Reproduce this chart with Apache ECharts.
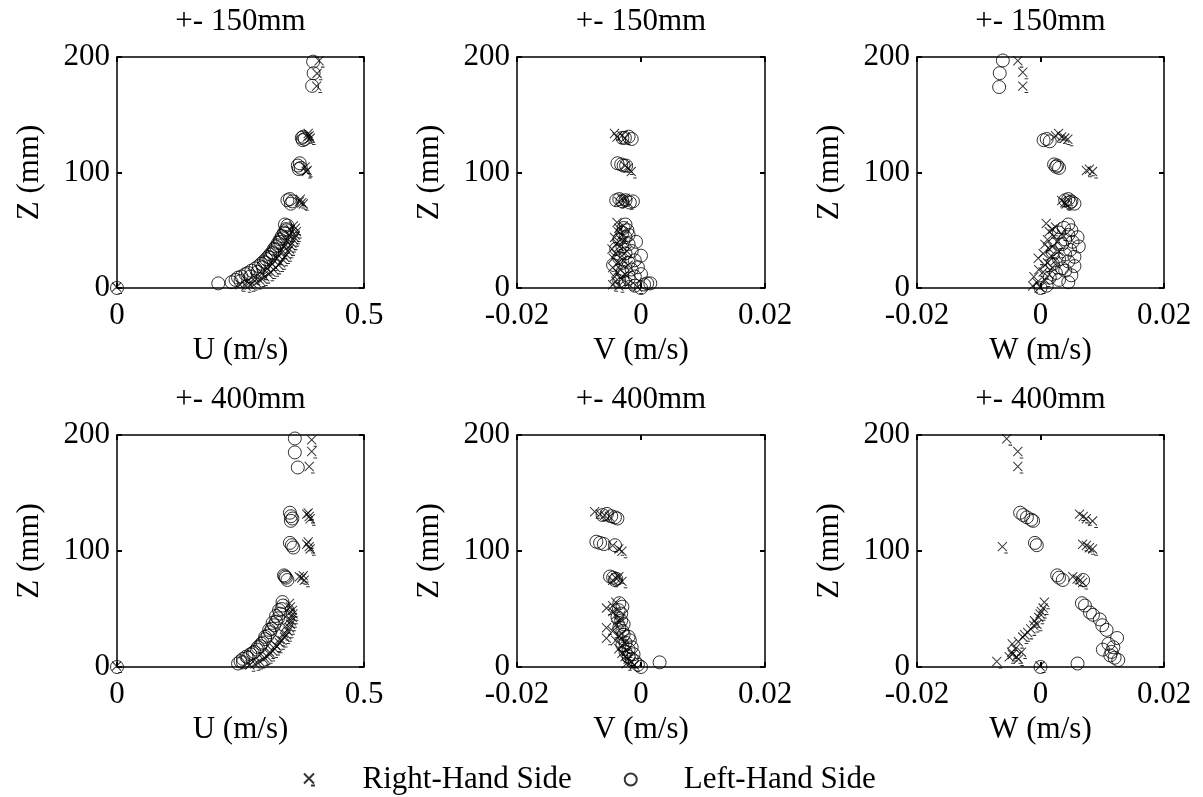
<!DOCTYPE html>
<html>
<head>
<meta charset="utf-8">
<script src="https://cdn.jsdelivr.net/npm/echarts@6/dist/echarts.min.js"></script>
<style>
html, body {margin: 0; padding: 0; background: #fff;}
#main {width: 1203px; height: 797px;}
</style>
</head>
<body>
<div id="main"></div>
<script>
//*************** data: [value, Z(mm)] ***************
var rhs_u_150 = [[0,0],
    [0.262,1],[0.27,2],[0.275,3],[0.283,4],[0.29,6],[0.295,7],[0.3,9],[0.308,11],[0.312,13],[0.318,15],[0.322,17],[0.328,19],
    [0.332,21],[0.336,24],[0.34,26],[0.344,28],[0.347,31],[0.35,33],[0.352,36],[0.355,38],[0.358,41],[0.36,43],[0.362,45],
    [0.364,48],[0.362,51],[0.358,53],[0.25,2],[0.265,5],[0.28,8],[0.295,12],[0.305,16],[0.315,20],[0.325,25],[0.335,30],
    [0.34,35],[0.345,40],[0.35,45],[0.352,50],
    [0.37,74],[0.375,73],[0.378,72],[0.372,76],
    [0.382,104],[0.386,101],[0.384,100],
    [0.388,133],[0.39,131],[0.392,129],[0.386,130],
    [0.405,174],[0.406,185],[0.41,196]];
var lhs_u_150 = [[0,0],
    [0.205,4],[0.232,5],[0.24,7],[0.245,9],[0.252,10],[0.26,12],[0.265,13],[0.272,15],[0.28,17],[0.287,19],[0.292,21],
    [0.297,23],[0.302,25],[0.306,27],[0.31,29],[0.314,31],[0.318,34],[0.322,36],[0.326,39],[0.33,42],[0.334,45],[0.338,48],
    [0.342,51],[0.345,54],[0.34,55],[0.25,6],[0.27,10],[0.285,14],[0.295,18],[0.3,22],[0.31,26],[0.315,30],[0.32,33],
    [0.325,37],[0.33,40],[0.335,43],[0.34,47],[0.343,50],
    [0.345,76],[0.35,77],[0.355,75],[0.352,73],
    [0.366,106],[0.37,108],[0.372,104],[0.368,103],
    [0.374,130],[0.377,131],[0.38,129],[0.376,128],
    [0.395,175],[0.398,186],[0.397,196]];

var rhs_v_150 = [[-0.0005,0],
    [-0.0045,2],[-0.0035,1],[-0.002,3],[-0.004,5],[-0.003,7],[-0.0042,9],[-0.0025,11],[-0.0038,13],[-0.0032,15],[-0.0045,17],
    [-0.002,19],[-0.0036,21],[-0.0028,23],[-0.0044,25],[-0.003,27],[-0.004,29],[-0.0022,31],[-0.0046,33],[-0.0034,35],
    [-0.0038,38],[-0.0028,40],[-0.0042,43],[-0.003,45],[-0.0036,48],[-0.0035,51],[-0.0028,53],[-0.0038,56],
    [-0.0035,74],[-0.003,76],[-0.002,73],[-0.0025,77],
    [-0.0015,100],[-0.002,103],[-0.0025,105],
    [-0.0042,133],[-0.0038,130],[-0.003,131],[-0.0025,129]];
var lhs_v_150 = [[0,0],[0.0015,4],
    [-0.001,2],[0.0005,3],[0.001,4],[-0.0025,5],[-0.0035,6],[-0.002,8],[-0.001,10],[0,12],[-0.003,14],[-0.0015,16],
    [-0.0005,18],[-0.0045,20],[-0.002,22],[-0.001,24],[-0.0035,26],[0,28],[-0.0025,30],[-0.0015,32],[-0.004,34],[-0.003,36],
    [-0.002,38],[-0.0008,40],[-0.0035,42],[-0.0025,44],[-0.002,46],[-0.003,48],[-0.0022,50],[-0.0028,52],[-0.0025,55],
    [-0.004,76],[-0.0035,77],[-0.003,75],[-0.0025,76],[-0.0018,74],[-0.0013,75],
    [-0.0038,108],[-0.0032,107],[-0.0028,106],[-0.0024,106],
    [-0.0026,130],[-0.002,131],[-0.0015,129],[-0.003,130]];

var rhs_w_150 = [[0,0],
    [-0.0012,1],[-0.0005,4],[0.0008,6],[-0.001,9],[0.0015,11],[0.0005,13],[-0.0002,15],[0.002,17],[0.0008,19],[0.0012,21],
    [0.0025,23],[-0.0003,25],[0.0018,27],[0.0005,29],[0.003,31],[0.0015,33],[0.002,35],[0.0008,37],[0.0028,39],[0.0012,41],
    [0.0022,44],[0.0035,46],[0.0015,48],[0.002,50],[0.0025,52],[0.001,55],
    [0.0035,75],[0.004,73],[0.0045,76],[0.0042,72],
    [0.0075,101],[0.008,102],[0.0085,100],
    [0.0025,131],[0.003,133],[0.0035,130],[0.004,129],[0.0045,128],
    [-0.0028,174],[-0.0028,186],[-0.0036,196]];
var lhs_w_150 = [[0,0],
    [0.001,2],[0.0045,5],[0.003,7],[0.0015,9],[0.005,11],[0.0025,13],[0.004,15],[0.0035,17],[0.0055,19],[0.002,21],
    [0.0045,23],[0.003,25],[0.0055,27],[0.004,29],[0.002,31],[0.0048,33],[0.0062,36],[0.0035,38],[0.0052,40],[0.004,42],
    [0.006,44],[0.0045,46],[0.003,48],[0.005,50],[0.0038,52],[0.0045,55],
    [0.004,76],[0.0045,77],[0.005,75],[0.0055,73],[0.0048,74],
    [0.0022,107],[0.0027,106],[0.003,104],[0.0025,105],
    [0.0005,128],[0.001,129],[0.0015,127],
    [-0.0067,174],[-0.0066,186],[-0.0061,197]];

var rhs_u_400 = [[0,0],
    [0.27,1],[0.285,3],[0.29,4],[0.297,6],[0.305,8],[0.31,10],[0.316,13],[0.32,15],[0.325,17],[0.33,20],[0.335,22],
    [0.34,25],[0.344,27],[0.347,30],[0.35,33],[0.352,36],[0.354,39],[0.356,42],[0.357,45],[0.356,48],[0.352,51],[0.35,54],
    [0.28,2],[0.3,7],[0.31,12],[0.322,18],[0.33,23],[0.338,28],[0.342,34],[0.348,40],[0.35,46],
    [0.37,77],[0.375,76],[0.38,74],[0.378,78],
    [0.385,105],[0.39,103],[0.392,101],[0.388,107],
    [0.385,131],[0.39,129],[0.392,127],[0.388,132],
    [0.39,172],[0.395,185],[0.395,195]];
var lhs_u_400 = [[0,0],
    [0.245,3],[0.25,5],[0.255,7],[0.262,9],[0.27,11],[0.278,13],[0.283,15],[0.29,18],[0.295,21],[0.3,24],[0.305,27],
    [0.31,30],[0.313,33],[0.318,36],[0.322,39],[0.326,42],[0.33,46],[0.333,50],[0.336,53],[0.335,56],
    [0.255,4],[0.265,8],[0.275,12],[0.285,17],[0.292,20],[0.3,26],[0.308,32],[0.315,38],[0.322,44],[0.328,49],
    [0.338,79],[0.342,77],[0.345,75],[0.34,78],
    [0.35,107],[0.354,105],[0.357,103],
    [0.35,133],[0.352,130],[0.355,128],[0.352,126],
    [0.366,172],[0.36,185],[0.36,197]];

var rhs_v_400 = [[-0.0023,2],[-0.001,1],[-0.0015,4],[-0.002,6],[-0.0025,8],[-0.003,11],[-0.0022,13],[-0.0035,15],
    [-0.003,18],[-0.0025,20],[-0.004,22],[-0.0055,24],[-0.0035,26],[-0.003,28],[-0.0045,30],[-0.0055,33],[-0.004,35],
    [-0.0035,38],[-0.0032,41],[-0.004,44],[-0.0045,47],[-0.0055,50],[-0.0045,52],[-0.004,55],
    [-0.0045,74],[-0.004,76],[-0.0035,77],[-0.003,73],
    [-0.003,99],[-0.0035,101],[-0.0045,104],
    [-0.0074,133],[-0.0065,131],[-0.0058,130],[-0.005,129]];
var lhs_v_400 = [[0,0],[0.003,4],
    [-0.0005,2],[-0.001,5],[-0.0015,7],[-0.002,9],[-0.0012,11],[-0.0025,13],[-0.002,15],[-0.0015,17],[-0.003,19],
    [-0.0025,21],[-0.0018,23],[-0.002,26],[-0.0028,28],[-0.003,31],[-0.0035,34],[-0.0028,37],[-0.0032,40],[-0.0038,43],
    [-0.0032,46],[-0.0036,49],[-0.003,52],[-0.0035,55],
    [-0.005,78],[-0.0045,77],[-0.004,76],[-0.0042,75],
    [-0.0072,108],[-0.0066,107],[-0.006,106],[-0.0042,105],
    [-0.0062,131],[-0.0055,132],[-0.0048,130],[-0.0042,129],[-0.0038,128]];

var rhs_w_400 = [[0,0],
    [-0.007,4],[-0.0035,6],[-0.0038,8],[-0.005,8],[-0.0045,10],[-0.0046,12],[-0.003,12],[-0.004,15],[-0.0045,19],
    [-0.0035,21],[-0.0028,25],[-0.0025,27],[-0.002,29],[-0.0015,32],[-0.001,35],[-0.0005,36],[-0.0009,39],[-0.0002,42],
    [0,45],[0.0002,47],[0.0005,50],[0.0007,55],
    [0.0053,77],[0.006,75],[0.0065,74],[0.0069,72],
    [-0.0061,103],
    [0.0069,105],[0.0075,104],[0.008,102],[0.0085,101],
    [0.0064,131],[0.007,129],[0.0075,127],[0.0085,125],
    [-0.0036,172],[-0.0036,185],[-0.0054,196]];
var lhs_w_400 = [[0,0],
    [0.006,3],[0.0126,6],[0.012,8],[0.0113,10],[0.0115,13],[0.0101,15],[0.0118,17],[0.011,20],[0.0124,25],[0.0107,32],
    [0.01,36],[0.0096,41],[0.0085,45],[0.008,47],[0.0072,53],[0.0067,55],
    [0.0027,79],[0.003,77],[0.0036,75],[0.0069,75],
    [-0.0009,107],[-0.0006,105],
    [-0.0033,133],[-0.0028,131],[-0.0022,129],[-0.0015,127],[-0.0012,126]];

var rhs_data = [rhs_u_150, rhs_v_150, rhs_w_150, rhs_u_400, rhs_v_400, rhs_w_400];
var lhs_data = [lhs_u_150, lhs_v_150, lhs_w_150, lhs_u_400, lhs_v_400, lhs_w_400];

var panel_titles = ['+- 150mm', '+- 150mm', '+- 150mm', '+- 400mm', '+- 400mm', '+- 400mm'];
var x_names = ['U (m/s)', 'V (m/s)', 'W (m/s)', 'U (m/s)', 'V (m/s)', 'W (m/s)'];
var y_name = 'Z (mm)';
var u_range = [0, 0.5, 0.5];        // min, max, interval
var vw_range = [-0.02, 0.02, 0.02];
var z_range = [0, 200, 100];
var legend_names = ['Right-Hand Side', 'Left-Hand Side'];

//*************** layout ***************
var font = "'Liberation Serif', 'Times New Roman', serif";
var fsize = 31;
var grids = [
    {left: 117, top: 57, width: 247, height: 231},
    {left: 517, top: 57, width: 248, height: 231},
    {left: 917, top: 57, width: 247, height: 231},
    {left: 117, top: 435, width: 247, height: 232},
    {left: 517, top: 435, width: 248, height: 232},
    {left: 917, top: 435, width: 247, height: 232}
];
var cross_symbol = 'path://M0,0L10,10M10,0L0,10M7,12L11,12';

var lineStyle = {color: '#000', width: 1.5};
var tickStyle = {show: true, inside: true, length: 5, lineStyle: {color: '#000', width: 2}};

var xAxes = [], yAxes = [], series = [], titles = [];
for (var i = 0; i < 6; i++) {
    var r = (i % 3 === 0) ? u_range : vw_range;
    // bottom x axis with labels
    xAxes.push({
        gridIndex: i, type: 'value', position: 'bottom',
        min: r[0], max: r[1], interval: r[2],
        name: x_names[i], nameLocation: 'middle', nameGap: 47,
        nameTextStyle: {fontFamily: font, fontSize: fsize, color: '#000'},
        axisLine: {show: true, onZero: false, lineStyle: lineStyle},
        axisTick: tickStyle,
        axisLabel: {fontFamily: font, fontSize: fsize, color: '#000', margin: 12},
        splitLine: {show: false}
    });
    // top x axis, ticks only
    xAxes.push({
        gridIndex: i, type: 'value', position: 'top',
        min: r[0], max: r[1], interval: r[2],
        axisLine: {show: true, onZero: false, lineStyle: lineStyle},
        axisTick: tickStyle,
        axisLabel: {show: false},
        splitLine: {show: false}
    });
    yAxes.push({
        gridIndex: i, type: 'value', position: 'left',
        min: z_range[0], max: z_range[1], interval: z_range[2],
        name: y_name, nameLocation: 'middle', nameGap: 72, nameRotate: 90,
        nameTextStyle: {fontFamily: font, fontSize: fsize, color: '#000'},
        axisLine: {show: true, onZero: false, lineStyle: lineStyle},
        axisTick: tickStyle,
        axisLabel: {fontFamily: font, fontSize: fsize, color: '#000', margin: 7},
        splitLine: {show: false}
    });
    yAxes.push({
        gridIndex: i, type: 'value', position: 'right',
        min: z_range[0], max: z_range[1], interval: z_range[2],
        axisLine: {show: true, onZero: false, lineStyle: lineStyle},
        axisTick: tickStyle,
        axisLabel: {show: false},
        splitLine: {show: false}
    });
    series.push({
        name: legend_names[0], type: 'scatter',
        xAxisIndex: i * 2, yAxisIndex: i * 2,
        symbol: cross_symbol, symbolSize: [10, 11],
        itemStyle: {color: 'rgba(0,0,0,0)', borderColor: '#000', borderWidth: 1},
        data: rhs_data[i]
    });
    series.push({
        name: legend_names[1], type: 'scatter',
        xAxisIndex: i * 2, yAxisIndex: i * 2,
        symbol: 'circle', symbolSize: 13,
        itemStyle: {color: 'rgba(0,0,0,0)', borderColor: '#000', borderWidth: 1},
        data: lhs_data[i]
    });
    titles.push({
        text: panel_titles[i],
        left: grids[i].left + grids[i].width / 2,
        top: grids[i].top - 51,
        textAlign: 'center', padding: 0,
        textStyle: {fontFamily: font, fontSize: fsize, fontWeight: 'normal', color: '#000'}
    });
}

var chart = echarts.init(document.getElementById('main'));
chart.setOption({
    backgroundColor: '#fff',
    animation: false,
    title: titles,
    grid: grids,
    xAxis: xAxes,
    yAxis: yAxes,
    legend: {
        data: [
            {name: legend_names[0], icon: cross_symbol},
            {name: legend_names[1], icon: 'circle'}
        ],
        left: 298, top: 759,
        itemWidth: 12, itemHeight: 12, itemGap: 52,
        textStyle: {fontFamily: font, fontSize: fsize, color: '#000', padding: [0, 0, 0, 42]}
    },
    series: series
});
</script>
</body>
</html>
